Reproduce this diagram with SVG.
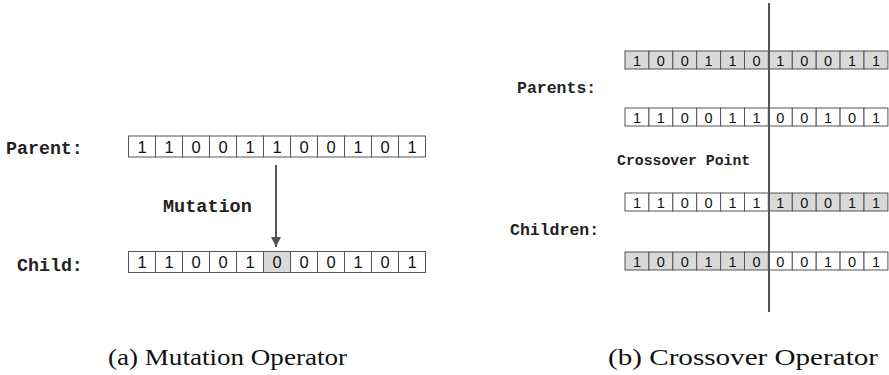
<svg xmlns="http://www.w3.org/2000/svg" width="889" height="375" viewBox="0 0 889 375">
  <defs>
    <style>
      .cell { fill: #ffffff; stroke: #555555; stroke-width: 1; }
      .cell.on { fill: #d9d9d9; }
      .bitA { font-family: "Liberation Sans", Arial, sans-serif; font-size: 16.5px; fill: #111; text-anchor: middle; }
      .bitB { font-family: "Liberation Sans", Arial, sans-serif; font-size: 14.5px; fill: #111; text-anchor: middle; }
      .lbl { font-family: "Liberation Mono", "Courier New", monospace; font-weight: bold; fill: #222; }
      .cap { font-family: "Liberation Serif", "Times New Roman", serif; font-size: 24px; fill: #111; }
      .conn { stroke: #555555; stroke-width: 2; fill: none; }
    </style>
    <marker id="head" viewBox="0 0 10 10" refX="10" refY="5" markerWidth="5" markerHeight="5" orient="auto" markerUnits="strokeWidth">
      <path d="M0,0 L10,5 L0,10 z" fill="#555555"/>
    </marker>
  </defs>
  <rect width="889" height="375" fill="#ffffff"/>

  <!-- (a) mutation: parent string -->
  <g id="parent">
    <text class="lbl" x="6" y="154" font-size="18.3">Parent:</text>
    <g transform="translate(128.5,136)">
      <rect class="cell" x="0" y="0" width="27" height="21"/><text class="bitA" x="13.5" y="16.5">1</text>
      <rect class="cell" x="27" y="0" width="27" height="21"/><text class="bitA" x="40.5" y="16.5">1</text>
      <rect class="cell" x="54" y="0" width="27" height="21"/><text class="bitA" x="67.5" y="16.5">0</text>
      <rect class="cell" x="81" y="0" width="27" height="21"/><text class="bitA" x="94.5" y="16.5">0</text>
      <rect class="cell" x="108" y="0" width="27" height="21"/><text class="bitA" x="121.5" y="16.5">1</text>
      <rect class="cell" x="135" y="0" width="27" height="21"/><text class="bitA" x="148.5" y="16.5">1</text>
      <rect class="cell" x="162" y="0" width="27" height="21"/><text class="bitA" x="175.5" y="16.5">0</text>
      <rect class="cell" x="189" y="0" width="27" height="21"/><text class="bitA" x="202.5" y="16.5">0</text>
      <rect class="cell" x="216" y="0" width="27" height="21"/><text class="bitA" x="229.5" y="16.5">1</text>
      <rect class="cell" x="243" y="0" width="27" height="21"/><text class="bitA" x="256.5" y="16.5">0</text>
      <rect class="cell" x="270" y="0" width="27" height="21"/><text class="bitA" x="283.5" y="16.5">1</text>
    </g>
  </g>

  <!-- (a) mutation: child string -->
  <g id="child">
    <text class="lbl" x="17" y="271" font-size="18.3">Child:</text>
    <g transform="translate(128.5,251.5)">
      <rect class="cell" x="0" y="0" width="27" height="21"/><text class="bitA" x="13.5" y="16.5">1</text>
      <rect class="cell" x="27" y="0" width="27" height="21"/><text class="bitA" x="40.5" y="16.5">1</text>
      <rect class="cell" x="54" y="0" width="27" height="21"/><text class="bitA" x="67.5" y="16.5">0</text>
      <rect class="cell" x="81" y="0" width="27" height="21"/><text class="bitA" x="94.5" y="16.5">0</text>
      <rect class="cell" x="108" y="0" width="27" height="21"/><text class="bitA" x="121.5" y="16.5">1</text>
      <rect class="cell on" x="135" y="0" width="27" height="21"/><text class="bitA" x="148.5" y="16.5">0</text>
      <rect class="cell" x="162" y="0" width="27" height="21"/><text class="bitA" x="175.5" y="16.5">0</text>
      <rect class="cell" x="189" y="0" width="27" height="21"/><text class="bitA" x="202.5" y="16.5">0</text>
      <rect class="cell" x="216" y="0" width="27" height="21"/><text class="bitA" x="229.5" y="16.5">1</text>
      <rect class="cell" x="243" y="0" width="27" height="21"/><text class="bitA" x="256.5" y="16.5">0</text>
      <rect class="cell" x="270" y="0" width="27" height="21"/><text class="bitA" x="283.5" y="16.5">1</text>
    </g>
  </g>

  <!-- (b) crossover: parents -->
  <g id="parents">
    <text class="lbl" x="517" y="93" font-size="16.5">Parents:</text>
    <g transform="translate(625,51)">
      <rect class="cell on" x="0" y="0" width="23.9" height="18"/><text class="bitB" x="11.95" y="14.5">1</text>
      <rect class="cell on" x="23.9" y="0" width="23.9" height="18"/><text class="bitB" x="35.85" y="14.5">0</text>
      <rect class="cell on" x="47.8" y="0" width="23.9" height="18"/><text class="bitB" x="59.75" y="14.5">0</text>
      <rect class="cell on" x="71.7" y="0" width="23.9" height="18"/><text class="bitB" x="83.65" y="14.5">1</text>
      <rect class="cell on" x="95.6" y="0" width="23.9" height="18"/><text class="bitB" x="107.55" y="14.5">1</text>
      <rect class="cell on" x="119.5" y="0" width="23.9" height="18"/><text class="bitB" x="131.45" y="14.5">0</text>
      <rect class="cell on" x="143.4" y="0" width="23.9" height="18"/><text class="bitB" x="155.35" y="14.5">1</text>
      <rect class="cell on" x="167.3" y="0" width="23.9" height="18"/><text class="bitB" x="179.25" y="14.5">0</text>
      <rect class="cell on" x="191.2" y="0" width="23.9" height="18"/><text class="bitB" x="203.15" y="14.5">0</text>
      <rect class="cell on" x="215.1" y="0" width="23.9" height="18"/><text class="bitB" x="227.05" y="14.5">1</text>
      <rect class="cell on" x="239" y="0" width="23.9" height="18"/><text class="bitB" x="250.95" y="14.5">1</text>
    </g>
    <g transform="translate(625,108)">
      <rect class="cell" x="0" y="0" width="23.9" height="18"/><text class="bitB" x="11.95" y="14.5">1</text>
      <rect class="cell" x="23.9" y="0" width="23.9" height="18"/><text class="bitB" x="35.85" y="14.5">1</text>
      <rect class="cell" x="47.8" y="0" width="23.9" height="18"/><text class="bitB" x="59.75" y="14.5">0</text>
      <rect class="cell" x="71.7" y="0" width="23.9" height="18"/><text class="bitB" x="83.65" y="14.5">0</text>
      <rect class="cell" x="95.6" y="0" width="23.9" height="18"/><text class="bitB" x="107.55" y="14.5">1</text>
      <rect class="cell" x="119.5" y="0" width="23.9" height="18"/><text class="bitB" x="131.45" y="14.5">1</text>
      <rect class="cell" x="143.4" y="0" width="23.9" height="18"/><text class="bitB" x="155.35" y="14.5">0</text>
      <rect class="cell" x="167.3" y="0" width="23.9" height="18"/><text class="bitB" x="179.25" y="14.5">0</text>
      <rect class="cell" x="191.2" y="0" width="23.9" height="18"/><text class="bitB" x="203.15" y="14.5">1</text>
      <rect class="cell" x="215.1" y="0" width="23.9" height="18"/><text class="bitB" x="227.05" y="14.5">0</text>
      <rect class="cell" x="239" y="0" width="23.9" height="18"/><text class="bitB" x="250.95" y="14.5">1</text>
    </g>
  </g>

  <!-- (b) crossover: children -->
  <g id="children">
    <text class="lbl" x="510" y="235" font-size="16.5">Children:</text>
    <g transform="translate(625,193)">
      <rect class="cell" x="0" y="0" width="23.9" height="18"/><text class="bitB" x="11.95" y="14.5">1</text>
      <rect class="cell" x="23.9" y="0" width="23.9" height="18"/><text class="bitB" x="35.85" y="14.5">1</text>
      <rect class="cell" x="47.8" y="0" width="23.9" height="18"/><text class="bitB" x="59.75" y="14.5">0</text>
      <rect class="cell" x="71.7" y="0" width="23.9" height="18"/><text class="bitB" x="83.65" y="14.5">0</text>
      <rect class="cell" x="95.6" y="0" width="23.9" height="18"/><text class="bitB" x="107.55" y="14.5">1</text>
      <rect class="cell" x="119.5" y="0" width="23.9" height="18"/><text class="bitB" x="131.45" y="14.5">1</text>
      <rect class="cell on" x="143.4" y="0" width="23.9" height="18"/><text class="bitB" x="155.35" y="14.5">1</text>
      <rect class="cell on" x="167.3" y="0" width="23.9" height="18"/><text class="bitB" x="179.25" y="14.5">0</text>
      <rect class="cell on" x="191.2" y="0" width="23.9" height="18"/><text class="bitB" x="203.15" y="14.5">0</text>
      <rect class="cell on" x="215.1" y="0" width="23.9" height="18"/><text class="bitB" x="227.05" y="14.5">1</text>
      <rect class="cell on" x="239" y="0" width="23.9" height="18"/><text class="bitB" x="250.95" y="14.5">1</text>
    </g>
    <g transform="translate(625,252)">
      <rect class="cell on" x="0" y="0" width="23.9" height="18"/><text class="bitB" x="11.95" y="14.5">1</text>
      <rect class="cell on" x="23.9" y="0" width="23.9" height="18"/><text class="bitB" x="35.85" y="14.5">0</text>
      <rect class="cell on" x="47.8" y="0" width="23.9" height="18"/><text class="bitB" x="59.75" y="14.5">0</text>
      <rect class="cell on" x="71.7" y="0" width="23.9" height="18"/><text class="bitB" x="83.65" y="14.5">1</text>
      <rect class="cell on" x="95.6" y="0" width="23.9" height="18"/><text class="bitB" x="107.55" y="14.5">1</text>
      <rect class="cell on" x="119.5" y="0" width="23.9" height="18"/><text class="bitB" x="131.45" y="14.5">0</text>
      <rect class="cell" x="143.4" y="0" width="23.9" height="18"/><text class="bitB" x="155.35" y="14.5">0</text>
      <rect class="cell" x="167.3" y="0" width="23.9" height="18"/><text class="bitB" x="179.25" y="14.5">0</text>
      <rect class="cell" x="191.2" y="0" width="23.9" height="18"/><text class="bitB" x="203.15" y="14.5">1</text>
      <rect class="cell" x="215.1" y="0" width="23.9" height="18"/><text class="bitB" x="227.05" y="14.5">0</text>
      <rect class="cell" x="239" y="0" width="23.9" height="18"/><text class="bitB" x="250.95" y="14.5">1</text>
    </g>
  </g>

  <!-- connectors: mutation arrow and crossover cut line -->
  <g id="connectors">
    <line class="conn" x1="276" y1="165" x2="276" y2="247" marker-end="url(#head)"/>
    <line class="conn" x1="769" y1="3" x2="769" y2="312"/>
  </g>

  <!-- annotations -->
  <g id="labels">
    <text class="lbl" x="163" y="212" font-size="18.5">Mutation</text>
    <text class="lbl" x="617" y="165" font-size="14.8">Crossover Point</text>
  </g>

  <!-- sub-figure captions -->
  <g id="captions">
    <text class="cap" x="108" y="365" textLength="239" lengthAdjust="spacingAndGlyphs">(a) Mutation Operator</text>
    <text class="cap" x="608" y="365" textLength="270" lengthAdjust="spacingAndGlyphs">(b) Crossover Operator</text>
  </g>
</svg>
